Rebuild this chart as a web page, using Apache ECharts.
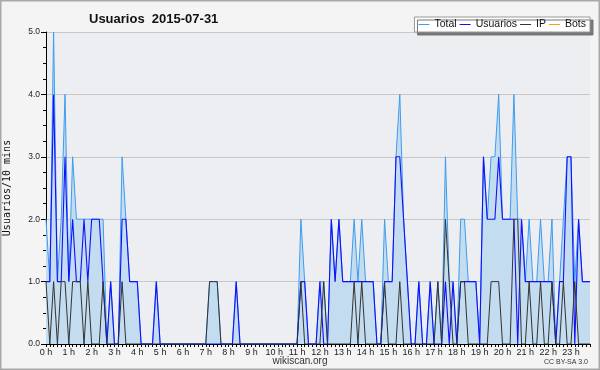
<!DOCTYPE html>
<html>
<head>
<meta charset="utf-8">
<script src="https://cdn.jsdelivr.net/npm/echarts@6.0.0/dist/echarts.min.js"></script>
<style>
html, body { margin: 0; padding: 0; background: #f4f4f4; }
#chart { width: 600px; height: 370px; }
</style>
</head>
<body>
<div id="chart"></div>
<script>
// hour labels of the x axis, one per 6 slots of 10 min
var hours = ['0 h', '1 h', '2 h', '3 h', '4 h', '5 h', '6 h', '7 h', '8 h', '9 h', '10 h', '11 h',
    '12 h', '13 h', '14 h', '15 h', '16 h', '17 h', '18 h', '19 h', '20 h', '21 h', '22 h', '23 h'];
var minutes = ['00', '10', '20', '30', '40', '50'];

// values every 10 minutes, 2 hours per row
var total = [
    2, 1, 5, 1, 2, 4, 1, 3, 2, 2, 2, 2,
    2, 2, 2, 2, 0, 1, 0, 0, 3, 2, 1, 1,
    1, 0, 0, 0, 0, 1, 0, 0, 0, 0, 0, 0,
    0, 0, 0, 0, 0, 0, 0, 1, 1, 1, 0, 0,
    0, 0, 1, 0, 0, 0, 0, 0, 0, 0, 0, 0,
    0, 0, 0, 0, 0, 0, 0, 2, 1, 0, 0, 0,
    1, 1, 0, 2, 1, 2, 1, 1, 1, 2, 1, 2,
    1, 1, 1, 0, 0, 2, 1, 1, 3, 4, 2, 1,
    0, 0, 1, 0, 0, 1, 0, 1, 0, 3, 1, 1,
    0, 2, 2, 1, 1, 1, 0, 3, 2, 3, 3, 4,
    2, 2, 2, 4, 2, 2, 1, 2, 1, 1, 2, 1,
    1, 2, 0, 1, 2, 3, 3, 1, 2, 1, 1, 1
];
var usuarios = [
    1, 1, 4, 1, 1, 3, 1, 2, 1, 1, 2, 1,
    2, 2, 2, 1, 0, 1, 0, 0, 2, 2, 1, 1,
    1, 0, 0, 0, 0, 1, 0, 0, 0, 0, 0, 0,
    0, 0, 0, 0, 0, 0, 0, 0, 0, 0, 0, 0,
    0, 0, 1, 0, 0, 0, 0, 0, 0, 0, 0, 0,
    0, 0, 0, 0, 0, 0, 0, 1, 1, 0, 0, 0,
    1, 0, 0, 2, 1, 2, 1, 1, 1, 1, 1, 1,
    1, 1, 1, 0, 0, 1, 1, 1, 3, 3, 2, 1,
    0, 0, 1, 0, 0, 1, 0, 0, 0, 1, 0, 1,
    0, 1, 1, 1, 1, 1, 0, 3, 2, 2, 2, 3,
    2, 2, 2, 2, 0, 2, 1, 1, 1, 1, 1, 1,
    1, 1, 0, 1, 1, 3, 3, 0, 2, 1, 1, 1
];
var ip = [
    1, 0, 1, 0, 1, 1, 0, 1, 1, 1, 0, 1,
    0, 0, 0, 1, 0, 0, 0, 0, 1, 0, 0, 0,
    0, 0, 0, 0, 0, 0, 0, 0, 0, 0, 0, 0,
    0, 0, 0, 0, 0, 0, 0, 1, 1, 1, 0, 0,
    0, 0, 0, 0, 0, 0, 0, 0, 0, 0, 0, 0,
    0, 0, 0, 0, 0, 0, 0, 1, 0, 0, 0, 0,
    0, 1, 0, 0, 0, 0, 0, 0, 0, 1, 0, 1,
    0, 0, 0, 0, 0, 1, 0, 0, 0, 1, 0, 0,
    0, 0, 0, 0, 0, 0, 0, 1, 0, 2, 1, 0,
    0, 1, 1, 0, 0, 0, 0, 0, 0, 1, 1, 1,
    0, 0, 0, 2, 2, 0, 0, 1, 0, 0, 1, 0,
    0, 1, 0, 0, 1, 0, 0, 1, 0, 0, 0, 0
];
var bots = [];  // no bot edits that day

var times = [];
for (var h = 0; h < hours.length; h++) {
    for (var m = 0; m < minutes.length; m++) {
        times.push(h + ':' + minutes[m]);
    }
}

var chart = echarts.init(document.getElementById('chart'));
var font = 'Liberation Sans';

var option = {
    backgroundColor: '#f4f4f4',
    animation: false,
    title: {
        text: 'Usuarios  2015-07-31',
        left: 84,
        top: 8,
        textStyle: { fontFamily: font, fontSize: 13, fontWeight: 'bold', color: '#111' }
    },
    legend: {
        right: 10,
        top: 17,
        backgroundColor: '#fff',
        borderColor: '#999',
        borderWidth: 1,
        shadowColor: '#777',
        shadowOffsetX: 3,
        shadowOffsetY: 3,
        shadowBlur: 0,
        padding: [2, 4],
        itemGap: 3,
        itemWidth: 11,
        itemHeight: 1,
        icon: 'rect',
        textStyle: { fontFamily: font, fontSize: 10.5, color: '#111' },
        data: ['Total', 'Usuarios', 'IP', 'Bots']
    },
    grid: { left: 46, right: 10, top: 32, bottom: 26, containLabel: false, outerBoundsMode: 'none' },
    xAxis: {
        type: 'category',
        boundaryGap: false,
        data: times,
        z: 3,
        axisLine: { lineStyle: { color: '#000', width: 1 } },
        axisTick: { interval: 0, length: 3, lineStyle: { color: '#000' } },
        axisLabel: {
            interval: 5,
            margin: 4,
            fontFamily: font,
            fontSize: 9,
            color: '#222',
            formatter: function (v, idx) { return hours[idx / 6]; }
        }
    },
    yAxis: {
        type: 'value',
        min: 0,
        max: 5,
        interval: 1,
        name: 'Usuarios/10 mins',
        nameLocation: 'middle',
        nameRotate: 90,
        nameGap: 34,
        nameTextStyle: { fontFamily: 'DejaVu Sans Mono', fontSize: 10, color: '#111' },
        axisLine: { show: true, lineStyle: { color: '#000' } },
        axisTick: { show: true, length: 5, lineStyle: { color: '#000' } },
        minorTick: { show: true, splitNumber: 4, length: 3, lineStyle: { color: '#000' } },
        axisLabel: {
            margin: 6,
            fontFamily: font,
            fontSize: 8.5,
            color: '#222',
            formatter: function (v) { return v.toFixed(1); }
        },
        splitLine: { show: true, lineStyle: { color: '#c8c8c8', width: 1 } },
        splitArea: { show: true, areaStyle: { color: ['#eceef1'] } }
    },
    series: [
        {
            name: 'Total',
            type: 'line',
            data: total,
            symbol: 'none',
            lineStyle: { color: '#3d9cf0', width: 1 },
            itemStyle: { color: '#3d9cf0' },
            areaStyle: { color: '#c4dcef', opacity: 1 }
        },
        {
            name: 'Usuarios',
            type: 'line',
            data: usuarios,
            symbol: 'none',
            lineStyle: { color: '#1010ff', width: 1.1 },
            itemStyle: { color: '#1010ff' }
        },
        {
            name: 'IP',
            type: 'line',
            data: ip,
            symbol: 'none',
            lineStyle: { color: '#333', width: 1 },
            itemStyle: { color: '#333' }
        },
        {
            name: 'Bots',
            type: 'line',
            data: bots,
            symbol: 'none',
            lineStyle: { color: '#ffa000', width: 1 },
            itemStyle: { color: '#ffa000' }
        }
    ],
    graphic: [
        {
            type: 'rect',
            shape: { x: 0.5, y: 0.5, width: 599, height: 369 },
            style: { fill: null, stroke: '#a8a8a8', lineWidth: 2 },
            silent: true
        },
        {
            type: 'text',
            left: 'center',
            top: 356,
            style: { text: 'wikiscan.org', font: '10px "Liberation Sans"', fill: '#333' }
        },
        {
            type: 'text',
            right: 12,
            top: 359,
            style: { text: 'CC BY-SA 3.0', font: '7px "Liberation Sans"', fill: '#333' }
        }
    ]
};

chart.setOption(option);
</script>
</body>
</html>
